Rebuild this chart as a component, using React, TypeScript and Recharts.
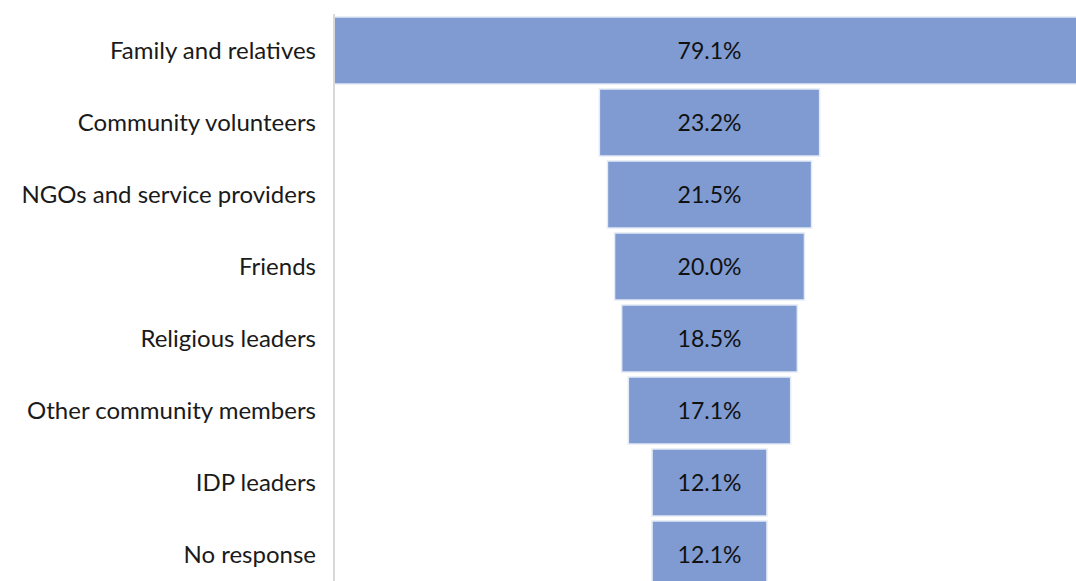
import { BarChart, Bar, XAxis, YAxis, LabelList } from 'recharts'

const categories = [
    'Family and relatives',
    'Community volunteers',
    'NGOs and service providers',
    'Friends',
    'Religious leaders',
    'Other community members',
    'IDP leaders',
    'No response',
]
const shares = [79.1, 23.2, 21.5, 20.0, 18.5, 17.1, 12.1, 12.1]

const maxShare = Math.max(...shares)

// invisible spacer + real bar makes each bar sit centred, like a funnel
const data = categories.map((name, i) => ({
    name,
    pad: (maxShare - shares[i]) / 2,
    share: shares[i],
}))

const font = 'Lato, "Open Sans", sans-serif'

export default function App() {
    return (
        <div
            style={{
                position: 'fixed',
                top: 0,
                left: 0,
                width: 1076,
                height: 581,
                overflow: 'hidden',
                background: '#fff',
            }}
        >
            <BarChart
                width={1090}
                height={600}
                data={data}
                layout="vertical"
                margin={{ top: 14, right: 5, bottom: 10, left: 0 }}
            >
                <XAxis type="number" domain={[0, maxShare]} hide />
                <YAxis
                    type="category"
                    dataKey="name"
                    width={334}
                    tickLine={false}
                    tickSize={0}
                    tickMargin={18}
                    axisLine={{ stroke: '#d9d9d9', strokeWidth: 2 }}
                    tick={{ fill: '#1a1a1a', fontSize: 24, fontFamily: font }}
                    interval={0}
                />
                <Bar
                    dataKey="pad"
                    stackId="f"
                    fill="transparent"
                    barSize={67}
                    isAnimationActive={false}
                />
                <Bar
                    dataKey="share"
                    stackId="f"
                    fill="#7f9bd2"
                    stroke="#e4eaf6"
                    strokeWidth={1.5}
                    barSize={67}
                    isAnimationActive={false}
                >
                    <LabelList
                        dataKey="share"
                        position="center"
                        formatter={(v: number) => `${v.toFixed(1)}%`}
                        style={{ fill: '#111', fontSize: 23, fontFamily: font }}
                    />
                </Bar>
            </BarChart>
        </div>
    )
}
